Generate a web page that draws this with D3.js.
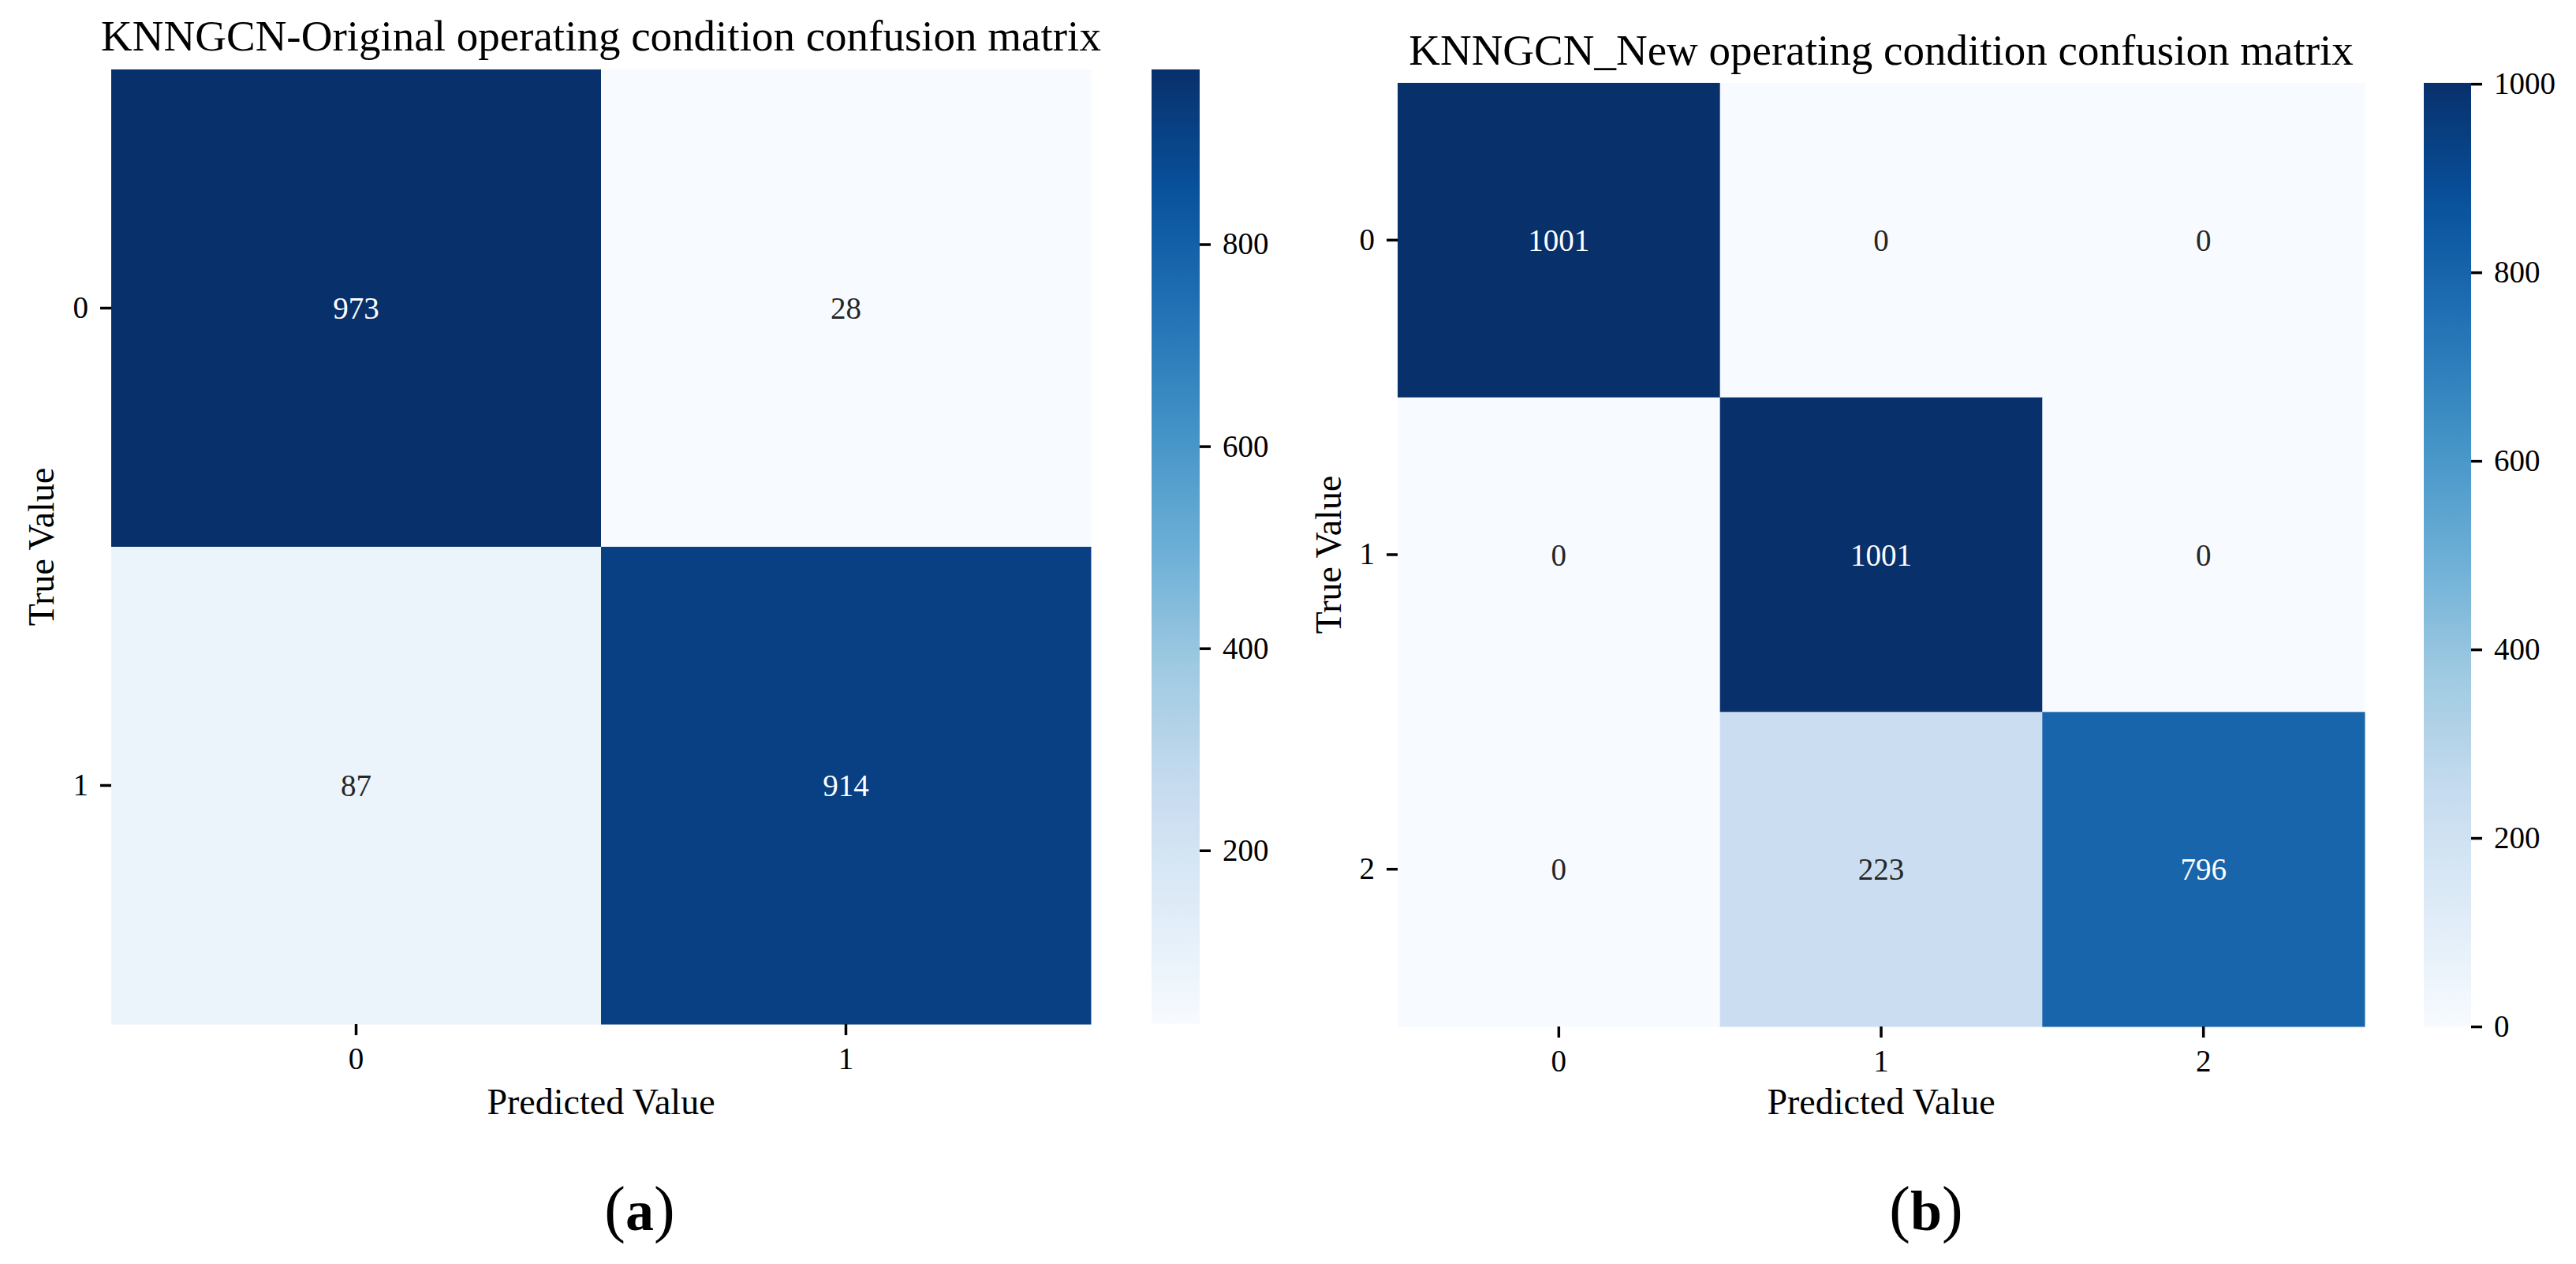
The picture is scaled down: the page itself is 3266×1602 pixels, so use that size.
<!DOCTYPE html>
<html>
<head>
<meta charset="utf-8">
<script src="https://cdn.jsdelivr.net/npm/d3@7"></script>
<style>
  body { margin: 0; background: #fff; }
  text { font-family: "Liberation Serif", "Times New Roman", serif; }
</style>
</head>
<body>
<div id="chart"></div>
<script>
// data for panel (a)
var labelsA = ["0", "1"];
var matrixA = [[973, 28], [87, 914]];
var cbTicksA = [200, 400, 600, 800];
var titleA = "KNNGCN-Original operating condition confusion matrix";

// data for panel (b)
var labelsB = ["0", "1", "2"];
var matrixB = [[1001, 0, 0], [0, 1001, 0], [0, 223, 796]];
var cbTicksB = [0, 200, 400, 600, 800, 1000];
var titleB = "KNNGCN_New operating condition confusion matrix";

var captions = ["a", "b"];

// matplotlib "Blues" anchor colours
var bluesColors = ["#f7fbff", "#deebf7", "#c6dbef", "#9ecae1", "#6baed6",
                   "#4292c6", "#2171b5", "#08519c", "#08306b"];

function init() {
    var w = 3266, h = 1602;

    var svg = d3.select("#chart").append("svg")
        .attr("width", w)
        .attr("height", h);

    var defs = svg.append("defs");

    //layout for each panel
    var panels = [
        { id: "a", labels: labelsA, matrix: matrixA, cbTicks: cbTicksA, title: titleA, caption: captions[0],
          x0: 141, x1: 1383, y0: 88, y1: 1298, titleY: 64, ylabelX: 68, cbX: 1460, cbW: 61, capX: 811 },
        { id: "b", labels: labelsB, matrix: matrixB, cbTicks: cbTicksB, title: titleB, caption: captions[1],
          x0: 1772, x1: 2998, y0: 105, y1: 1301, titleY: 82, ylabelX: 1700, cbX: 3073, cbW: 60, capX: 2442 }
    ];

    panels.forEach(function (p) {
        var flat = d3.merge(p.matrix);
        var vmin = d3.min(flat), vmax = d3.max(flat);

        //colour scale piecewise like matplotlib's LinearSegmentedColormap
        var color = d3.scaleLinear()
            .domain(bluesColors.map(function (c, i) { return vmin + (vmax - vmin) * i / (bluesColors.length - 1); }))
            .range(bluesColors)
            .interpolate(d3.interpolateRgb);

        var xScale = d3.scaleBand().domain(p.labels).range([p.x0, p.x1]);
        var yScale = d3.scaleBand().domain(p.labels).range([p.y0, p.y1]);

        var cells = [];
        p.matrix.forEach(function (row, i) {
            row.forEach(function (v, j) {
                cells.push({ row: p.labels[i], col: p.labels[j], value: v });
            });
        });

        var g = svg.append("g");

        g.selectAll("rect.cell")
            .data(cells)
            .enter().append("rect")
            .attr("class", "cell")
            .attr("x", function (d) { return xScale(d.col); })
            .attr("y", function (d) { return yScale(d.row); })
            .attr("width", xScale.bandwidth() + 0.5)
            .attr("height", yScale.bandwidth() + 0.5)
            .attr("fill", function (d) { return color(d.value); });

        //annotations, dark or white text like seaborn
        g.selectAll("text.annot")
            .data(cells)
            .enter().append("text")
            .attr("class", "annot")
            .attr("x", function (d) { return xScale(d.col) + xScale.bandwidth() / 2; })
            .attr("y", function (d) { return yScale(d.row) + yScale.bandwidth() / 2; })
            .attr("dy", "0.35em")
            .attr("text-anchor", "middle")
            .attr("font-size", 39)
            .attr("fill", function (d) {
                var c = d3.rgb(color(d.value));
                var lin = [c.r, c.g, c.b].map(function (v) {
                    v = v / 255;
                    return v <= 0.03928 ? v / 12.92 : Math.pow((v + 0.055) / 1.055, 2.4);
                });
                var lum = 0.2126 * lin[0] + 0.7152 * lin[1] + 0.0722 * lin[2];
                return lum > 0.408 ? "#262626" : "#ffffff";
            })
            .text(function (d) { return d.value; });

        //x axis
        var xAxis = d3.axisBottom(xScale).tickSize(14).tickPadding(15);
        var gx = g.append("g")
            .attr("transform", "translate(0," + p.y1 + ")")
            .call(xAxis);
        gx.select(".domain").remove();
        gx.selectAll(".tick line").attr("stroke", "#000").attr("stroke-width", 3.5);
        gx.selectAll(".tick text").attr("font-size", 39).attr("fill", "#000")
            .style("font-family", "'Liberation Serif', 'Times New Roman', serif");

        //y axis
        var yAxis = d3.axisLeft(yScale).tickSize(14).tickPadding(15);
        var gy = g.append("g")
            .attr("transform", "translate(" + p.x0 + ",0)")
            .call(yAxis);
        gy.select(".domain").remove();
        gy.selectAll(".tick line").attr("stroke", "#000").attr("stroke-width", 3.5);
        gy.selectAll(".tick text").attr("font-size", 39).attr("fill", "#000")
            .style("font-family", "'Liberation Serif', 'Times New Roman', serif");

        //title and axis labels
        var cx = (p.x0 + p.x1) / 2;
        g.append("text")
            .attr("x", cx).attr("y", p.titleY)
            .attr("text-anchor", "middle")
            .attr("font-size", 55)
            .text(p.title);

        g.append("text")
            .attr("x", cx).attr("y", 1412)
            .attr("text-anchor", "middle")
            .attr("font-size", 46)
            .text("Predicted Value");

        g.append("text")
            .attr("transform", "translate(" + p.ylabelX + "," + ((p.y0 + p.y1) / 2) + ") rotate(-90)")
            .attr("text-anchor", "middle")
            .attr("font-size", 46)
            .text("True Value");

        //colorbar
        var cbScale = d3.scaleLinear().domain([vmin, vmax]).range([p.y1, p.y0]);
        var grad = defs.append("linearGradient")
            .attr("id", "grad-" + p.id)
            .attr("x1", 0).attr("y1", 1).attr("x2", 0).attr("y2", 0);
        grad.selectAll("stop")
            .data(d3.range(0, 1.0001, 0.02))
            .enter().append("stop")
            .attr("offset", function (t) { return t; })
            .attr("stop-color", function (t) { return color(vmin + t * (vmax - vmin)); });

        g.append("rect")
            .attr("x", p.cbX).attr("y", p.y0)
            .attr("width", p.cbW).attr("height", p.y1 - p.y0)
            .attr("fill", "url(#grad-" + p.id + ")");

        var cbAxis = d3.axisRight(cbScale).tickValues(p.cbTicks).tickSize(14).tickPadding(15)
            .tickFormat(d3.format("d"));
        var gc = g.append("g")
            .attr("transform", "translate(" + (p.cbX + p.cbW) + ",0)")
            .call(cbAxis);
        gc.select(".domain").remove();
        gc.selectAll(".tick line").attr("stroke", "#000").attr("stroke-width", 3.5);
        gc.selectAll(".tick text").attr("font-size", 39).attr("fill", "#000")
            .style("font-family", "'Liberation Serif', 'Times New Roman', serif");

        //subfigure caption: regular parens, bold letter
        var cap = g.append("text")
            .attr("x", p.capX).attr("y", 1559)
            .attr("text-anchor", "middle")
            .attr("font-size", 72);
        cap.append("tspan").attr("font-size", 80).text("(");
        cap.append("tspan").attr("font-weight", "bold").text(p.caption);
        cap.append("tspan").attr("font-size", 80).text(")");
    });
}

window.onload = init;
</script>
</body>
</html>
